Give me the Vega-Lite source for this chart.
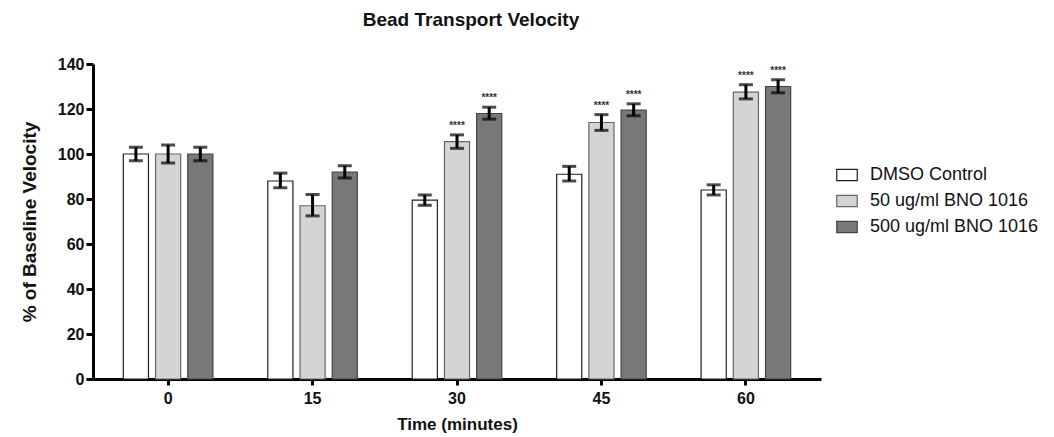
{
  "$schema": "https://vega.github.io/schema/vega-lite/v6.json",
  "width": 728,
  "height": 315,
  "padding": {"left": 20, "top": 11, "right": 5, "bottom": 5},
  "background": "white",
  "title": {"text": "Bead Transport Velocity", "font": "Liberation Sans", "fontSize": 19, "fontWeight": "bold", "color": "#111", "offset": 26, "anchor": "middle", "dx": 14},
  "config": {
    "view": {"stroke": null},
    "font": "Liberation Sans",
    "axis": {"grid": false}
  },
  "data": {"values": [
    {"time": "0", "group": "DMSO Control", "mean": 100, "lo": 97, "hi": 103, "sig": ""},
    {"time": "0", "group": "50 ug/ml BNO 1016", "mean": 100, "lo": 96, "hi": 104, "sig": ""},
    {"time": "0", "group": "500 ug/ml BNO 1016", "mean": 100, "lo": 97, "hi": 103, "sig": ""},
    {"time": "15", "group": "DMSO Control", "mean": 88, "lo": 85, "hi": 91.5, "sig": ""},
    {"time": "15", "group": "50 ug/ml BNO 1016", "mean": 77, "lo": 72.5, "hi": 82, "sig": ""},
    {"time": "15", "group": "500 ug/ml BNO 1016", "mean": 92, "lo": 89.3, "hi": 94.8, "sig": ""},
    {"time": "30", "group": "DMSO Control", "mean": 79.5, "lo": 77.2, "hi": 81.8, "sig": ""},
    {"time": "30", "group": "50 ug/ml BNO 1016", "mean": 105.5, "lo": 102.5, "hi": 108.5, "sig": "****"},
    {"time": "30", "group": "500 ug/ml BNO 1016", "mean": 118, "lo": 115.5, "hi": 120.8, "sig": "****"},
    {"time": "45", "group": "DMSO Control", "mean": 91, "lo": 88, "hi": 94.5, "sig": ""},
    {"time": "45", "group": "50 ug/ml BNO 1016", "mean": 114, "lo": 110.5, "hi": 117.5, "sig": "****"},
    {"time": "45", "group": "500 ug/ml BNO 1016", "mean": 119.5, "lo": 117, "hi": 122.3, "sig": "****"},
    {"time": "60", "group": "DMSO Control", "mean": 84, "lo": 81.8, "hi": 86.3, "sig": ""},
    {"time": "60", "group": "50 ug/ml BNO 1016", "mean": 127.5, "lo": 124.5, "hi": 130.8, "sig": "****"},
    {"time": "60", "group": "500 ug/ml BNO 1016", "mean": 130, "lo": 127.2, "hi": 133, "sig": "****"}
  ]},
  "encoding": {
    "x": {
      "field": "time", "type": "ordinal", "sort": ["0", "15", "30", "45", "60"],
      "scale": {"paddingInner": 0.38, "paddingOuter": 0.21},
      "axis": {
        "title": "Time (minutes)", "labelAngle": 0,
        "labelFont": "Liberation Sans", "labelFontWeight": "bold", "labelFontSize": 16, "labelColor": "#111",
        "titleFont": "Liberation Sans", "titleFontWeight": "bold", "titleFontSize": 17, "titleColor": "#111",
        "domainColor": "black", "domainWidth": 3, "tickColor": "black", "tickWidth": 3, "tickSize": 6,
        "labelPadding": 5, "titlePadding": 10
      }
    },
    "xOffset": {
      "field": "group", "type": "nominal",
      "sort": ["DMSO Control", "50 ug/ml BNO 1016", "500 ug/ml BNO 1016"],
      "scale": {"paddingInner": 0.22, "paddingOuter": 0}
    }
  },
  "layer": [
    {
      "mark": {"type": "bar", "strokeWidth": 1.2},
      "encoding": {
        "y": {
          "field": "mean", "type": "quantitative",
          "scale": {"domain": [0, 140], "nice": false},
          "axis": {
            "title": "% of  Baseline Velocity",
            "values": [0, 10, 20, 30, 40, 50, 60, 70, 80, 90, 100, 110, 120, 130, 140],
            "labelExpr": "datum.value % 20 === 0 ? datum.label : ''",
            "tickSize": {"condition": {"test": "datum.value % 20 === 0", "value": 7}, "value": 5},
            "labelFont": "Liberation Sans", "labelFontWeight": "bold", "labelFontSize": 16, "labelColor": "#111",
            "titleFont": "Liberation Sans", "titleFontWeight": "bold", "titleFontSize": 19, "titleColor": "#111",
            "domainColor": "black", "domainWidth": 3, "tickColor": "black", "tickWidth": 3,
            "labelPadding": 2, "titlePadding": 18
          }
        },
        "fill": {
          "field": "group", "type": "nominal",
          "sort": ["DMSO Control", "50 ug/ml BNO 1016", "500 ug/ml BNO 1016"],
          "scale": {"domain": ["DMSO Control", "50 ug/ml BNO 1016", "500 ug/ml BNO 1016"], "range": ["#ffffff", "#d4d4d4", "#787878"]},
          "legend": {
            "title": null, "orient": "none", "legendX": 743, "legendY": 100,
            "labelFont": "Liberation Sans", "labelFontSize": 18, "labelColor": "#111", "labelLimit": 400,
            "symbolType": "M-1,-0.55H1V0.55H-1Z", "symbolSize": 420,
            "symbolStrokeColor": "#333", "symbolStrokeWidth": 1.2,
            "rowPadding": 6, "labelOffset": 12
          }
        },
        "stroke": {
          "field": "group", "type": "nominal",
          "scale": {"domain": ["DMSO Control", "50 ug/ml BNO 1016", "500 ug/ml BNO 1016"], "range": ["#222222", "#666666", "#444444"]},
          "legend": null
        }
      }
    },
    {
      "mark": {"type": "rule", "strokeWidth": 3, "color": "black"},
      "encoding": {
        "y": {"field": "lo", "type": "quantitative"},
        "y2": {"field": "hi"}
      }
    },
    {
      "mark": {"type": "tick", "thickness": 3, "size": 14, "color": "black"},
      "encoding": {"y": {"field": "lo", "type": "quantitative"}}
    },
    {
      "mark": {"type": "tick", "thickness": 3, "size": 14, "color": "black"},
      "encoding": {"y": {"field": "hi", "type": "quantitative"}}
    },
    {
      "mark": {"type": "text", "dy": -9, "fontSize": 10, "fontWeight": "bold", "color": "#333", "font": "Liberation Sans"},
      "encoding": {
        "y": {"field": "hi", "type": "quantitative"},
        "text": {"field": "sig"}
      }
    }
  ]
}
